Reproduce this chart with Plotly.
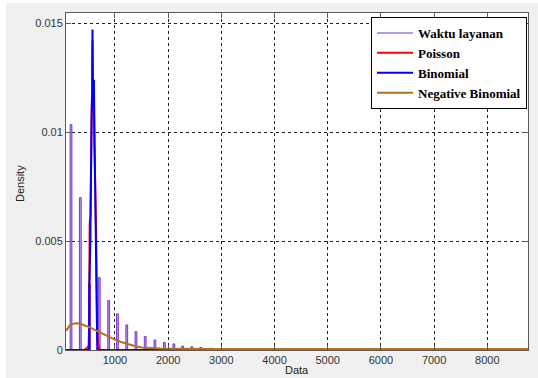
import plotly.graph_objects as go

# Histogram of observed data (Waktu layanan)
hist_x = [174, 349, 523, 705, 882, 1047, 1222, 1395, 1569, 1751, 1930, 2108, 2272, 2446, 2615, 2812]
hist_y = [0.01034, 0.00699, 0.0030, 0.00332, 0.00227, 0.00166, 0.00115, 0.00084,
          0.00062, 0.00046, 0.00035, 0.00028, 0.00018, 0.00015, 0.00012, 0.00008]

# Poisson fit
pois_x = [80, 420, 450, 480, 505, 512, 518, 525, 540, 548, 565, 572, 578, 585, 595,
          605, 612, 620, 632, 645, 655, 665, 680, 700, 730, 8765]
pois_y = [0, 0, 0.00005, 0.0001, 0.0002, 0.0008, 0.0028, 0.0058, 0.0062, 0.0088, 0.0113,
          0.0118, 0.0142, 0.0125, 0.0110, 0.0120, 0.0095, 0.0075, 0.0072, 0.0055, 0.0028,
          0.0010, 0.0003, 0.0001, 0, 0]

# Binomial fit
binom_x = [80, 515, 518, 522, 538, 545, 560, 572, 578, 584, 596, 606, 610, 616, 628,
           640, 650, 656, 662, 668, 8765]
binom_y = [0, 0, 0.0030, 0.0032, 0.0050, 0.0095, 0.0105, 0.0118, 0.0147, 0.0118, 0.0112,
           0.0124, 0.0110, 0.0095, 0.0075, 0.0052, 0.0030, 0.0026, 0.0006, 0, 0]

# Negative binomial fit
nb_x = [80, 150, 200, 280, 350, 450, 530, 620, 720, 830, 910, 1000, 1100, 1200, 1300,
        1400, 1500, 1650, 1850, 2100, 3000, 8765]
nb_y = [0.00088, 0.00112, 0.00120, 0.00123, 0.00120, 0.00112, 0.00104, 0.00092, 0.00080,
        0.00066, 0.00057, 0.00048, 0.00038, 0.00030, 0.00022, 0.00016, 0.00012, 0.00009,
        0.00007, 0.00006, 0.00005, 0.00005]

x_ticks = [1000, 2000, 3000, 4000, 5000, 6000, 7000, 8000]
y_ticks = [0, 0.005, 0.01, 0.015]
y_tick_labels = ["0", "0.005", "0.01", "0.015"]

fig = go.Figure()

fig.add_trace(go.Bar(x=hist_x, y=hist_y, width=34, showlegend=False,
                     marker=dict(color="#b89ae8", line=dict(color="#7a3cc8", width=1))))
# legend entry for histogram (line sample, as in reference)
fig.add_trace(go.Scatter(x=[None], y=[None], mode="lines", name="Waktu layanan",
                         line=dict(color="#b59ae3", width=2)))
fig.add_trace(go.Scatter(x=pois_x, y=pois_y, mode="lines", name="Poisson",
                         line=dict(color="#ff0000", width=2)))
fig.add_trace(go.Scatter(x=binom_x, y=binom_y, mode="lines", name="Binomial",
                         line=dict(color="#0000ff", width=2)))
fig.add_trace(go.Scatter(x=nb_x, y=nb_y, mode="lines", name="Negative Binomial",
                         line=dict(color="#b8701e", width=2)))

axis_common = dict(
    showline=True, linecolor="#5a5a5a", linewidth=1, mirror="ticks",
    ticks="inside", ticklen=5, tickcolor="#5a5a5a",
    showgrid=True, gridcolor="#222222", griddash="dot", gridwidth=1,
    zeroline=False, automargin=False,
    tickfont=dict(family="Liberation Sans, Arial", size=11, color="#333333"),
)

fig.update_xaxes(range=[80, 8765], tickvals=x_ticks, **axis_common)
fig.update_yaxes(range=[0, 0.01546], tickvals=y_ticks, ticktext=y_tick_labels, **axis_common)

W, H = 538, 378
ml, mr, mt, mb = 66, 10, 13, 28
pw, ph = W - ml - mr, H - mt - mb

title_font = dict(family="Liberation Sans, Arial", size=11, color="#222")
fig.add_annotation(text="Data", xref="paper", yref="paper", x=0.5, y=-(370 - 350) / ph,
                   xanchor="center", yanchor="middle", showarrow=False, font=title_font)
fig.add_annotation(text="Density", xref="paper", yref="paper", x=-(66 - 20) / pw,
                   y=(350 - 184) / ph, textangle=-90, xanchor="center", yanchor="middle",
                   showarrow=False, font=title_font)

fig.update_layout(
    width=W, height=H,
    margin=dict(l=ml, r=mr, t=mt, b=mb, autoexpand=False),
    paper_bgcolor="#f0f0f0", plot_bgcolor="#ffffff",
    barmode="overlay",
    legend=dict(x=1 - 1 / pw, xanchor="right", y=1 - 4 / ph, yanchor="top",
                bgcolor="#ffffff", bordercolor="#000000", borderwidth=1,
                font=dict(family="Liberation Serif, Times New Roman", size=13, color="#000",
                          weight="bold"),
                itemwidth=36, tracegroupgap=0),
    shapes=[
        dict(type="rect", xref="paper", yref="paper", layer="above",
             x0=-ml / pw, x1=-(ml - 6) / pw, y0=-mb / ph, y1=1 + mt / ph,
             fillcolor="#ffffff", line=dict(width=0)),
        dict(type="rect", xref="paper", yref="paper", layer="above",
             x0=-ml / pw, x1=1 + mr / pw, y0=1 + (mt - 3) / ph, y1=1 + mt / ph,
             fillcolor="#ffffff", line=dict(width=0)),
    ],
    showlegend=True,
)

fig.write_html("out.html")
